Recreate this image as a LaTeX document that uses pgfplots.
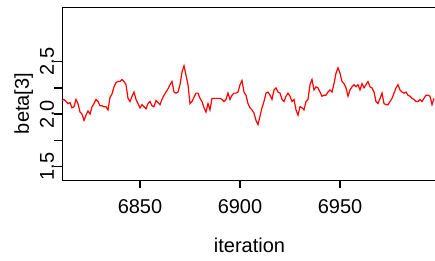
\documentclass[border=0pt]{standalone}
\usepackage{fontspec}
\setmainfont{Liberation Sans}
\usepackage{pgfplots}
\pgfplotsset{compat=1.18}
\begin{document}
\begin{tikzpicture}
\useasboundingbox (-62pt,-80pt) rectangle (373pt,180pt);
\begin{axis}[at={(0pt,0pt)}, anchor=south west, scale only axis, width=375pt, height=172pt,
  line width=1pt, clip=false,
  xmin=6811, xmax=6998.5, ymin=1.373, ymax=3.01,
  xtick pos=left, ytick pos=left, tick align=outside, major tick length=8pt,
  xtick style={black, line width=1.3pt}, ytick style={black, line width=1.3pt},
  xtick={6850,6900,6950}, xticklabels={6850,6900,6950},
  ytick={1.5,1.75,2,2.25,2.5}, yticklabels={1.5,,2.0,,2.5},
  tick label style={font=\fontsize{20}{24}\selectfont},
  yticklabel style={rotate=90, anchor=base, inner sep=0pt},
  xticklabel style={anchor=base, inner sep=0pt, yshift=-25pt},
  xlabel={iteration}, ylabel={beta[3]},
  label style={font=\fontsize{20}{24}\selectfont},
  xlabel style={at={(axis description cs:0.5,0)}, anchor=base, yshift=-72pt},
  ylabel style={at={(axis description cs:0,0.445)}, anchor=base, yshift=33pt},
]
\addplot[red, line width=1.2pt] coordinates {
(6811,2.13)(6812,2.14)(6813,2.12)(6814,2.10)(6815,2.11)(6816,2.06)(6817,2.07)(6818,2.14)(6819,2.10)(6820,2.02)
(6821,2.00)(6822,1.94)(6823,1.99)(6824,2.03)(6825,2.00)(6826,2.07)(6827,2.10)(6828,2.14)(6829,2.12)(6830,2.08)
(6831,2.08)(6832,2.07)(6833,2.07)(6834,2.04)(6835,2.16)(6836,2.19)(6837,2.26)(6838,2.30)(6839,2.31)(6840,2.31)
(6841,2.33)(6842,2.31)(6843,2.28)(6844,2.15)(6845,2.12)(6846,2.17)(6847,2.21)(6848,2.14)(6849,2.10)(6850,2.06)
(6851,2.09)(6852,2.07)(6853,2.05)(6854,2.10)(6855,2.12)(6856,2.08)(6857,2.07)(6858,2.13)(6859,2.11)(6860,2.09)
(6861,2.14)(6862,2.18)(6863,2.21)(6864,2.24)(6865,2.28)(6866,2.31)(6867,2.21)(6868,2.20)(6869,2.21)(6870,2.28)
(6871,2.40)(6872,2.46)(6873,2.37)(6874,2.28)(6875,2.10)(6876,2.12)(6877,2.16)(6878,2.20)(6879,2.20)(6880,2.15)
(6881,2.12)(6882,2.06)(6883,2.02)(6884,2.10)(6885,2.04)(6886,2.15)(6887,2.15)(6888,2.15)(6889,2.15)(6890,2.15)
(6891,2.14)(6892,2.12)(6893,2.14)(6894,2.20)(6895,2.14)(6896,2.18)(6897,2.20)(6898,2.20)(6899,2.21)(6900,2.28)
(6901,2.32)(6902,2.21)(6903,2.18)(6904,2.10)(6905,2.06)(6906,2.04)(6907,2.01)(6908,1.94)(6909,1.90)(6910,1.98)
(6911,2.06)(6912,2.12)(6913,2.20)(6914,2.21)(6915,2.18)(6916,2.14)(6917,2.23)(6918,2.25)(6919,2.21)(6920,2.20)
(6921,2.14)(6922,2.12)(6923,2.17)(6924,2.20)(6925,2.17)(6926,2.12)(6927,2.14)(6928,2.04)(6929,1.99)(6930,2.07)
(6931,2.06)(6932,2.04)(6933,2.12)(6934,2.14)(6935,2.28)(6936,2.33)(6937,2.23)(6938,2.26)(6939,2.25)(6940,2.21)
(6941,2.17)(6942,2.18)(6943,2.18)(6944,2.21)(6945,2.23)(6946,2.21)(6947,2.29)(6948,2.39)(6949,2.44)(6950,2.39)
(6951,2.31)(6952,2.29)(6953,2.25)(6954,2.17)(6955,2.23)(6956,2.26)(6957,2.28)(6958,2.26)(6959,2.28)(6960,2.23)
(6961,2.29)(6962,2.25)(6963,2.28)(6964,2.31)(6965,2.26)(6966,2.25)(6967,2.21)(6968,2.12)(6969,2.10)(6970,2.15)
(6971,2.20)(6972,2.10)(6973,2.09)(6974,2.09)(6975,2.12)(6976,2.15)(6977,2.20)(6978,2.25)(6979,2.28)(6980,2.23)
(6981,2.21)(6982,2.20)(6983,2.21)(6984,2.18)(6985,2.17)(6986,2.15)(6987,2.14)(6988,2.12)(6989,2.12)(6990,2.14)
(6991,2.12)(6992,2.15)(6993,2.18)(6994,2.18)(6995,2.17)(6996,2.09)(6997,2.15)
};
\end{axis}
\end{tikzpicture}
\end{document}
